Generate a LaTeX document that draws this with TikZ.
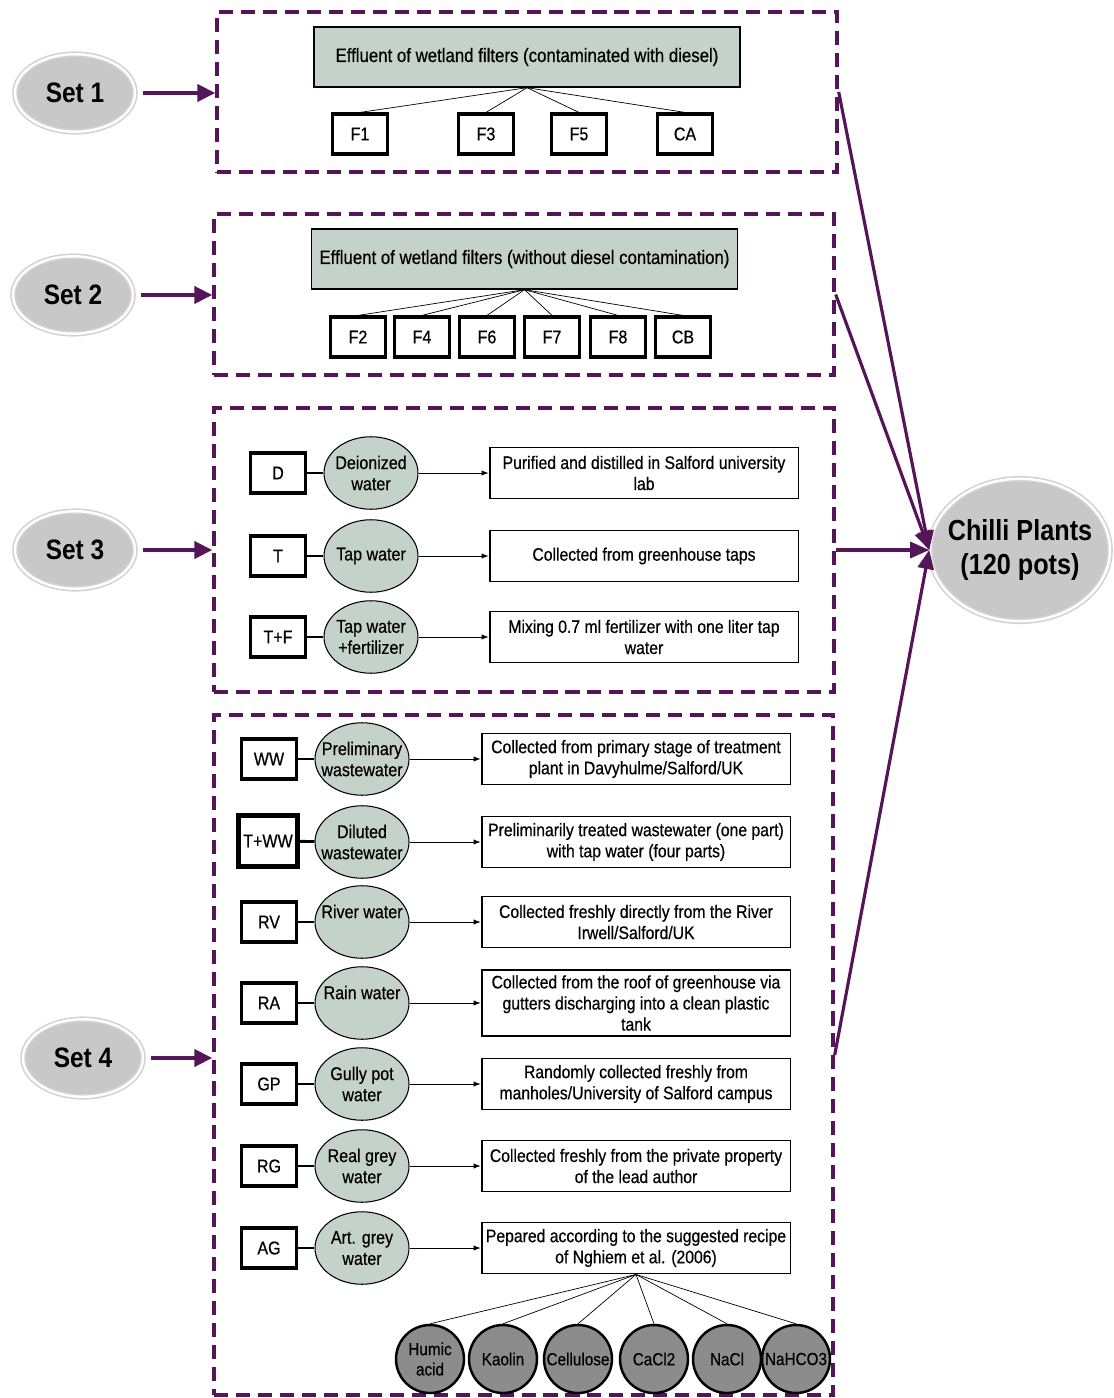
\documentclass[tikz,border=0pt]{standalone}
\usepackage{fontspec}
\setmainfont{Liberation Sans}[FakeStretch=0.87]
\newfontfamily\bodyfont{Liberation Sans}[FakeStretch=0.87, FakeBold=0.5]
\usetikzlibrary{shapes.geometric,arrows.meta,calc,positioning}
\definecolor{plum}{RGB}{84,22,88}
\definecolor{sage}{RGB}{197,210,201}
\definecolor{setgray}{RGB}{200,200,200}
\definecolor{ballgray}{RGB}{140,140,140}
\tikzset{>=latex}
\tikzset{
  setnode/.style={ellipse, fill=setgray, draw=gray!35, double=white,
    double distance=1.4pt, line width=0.9pt, minimum width=2.4cm,
    minimum height=1.55cm, font=\fontsize{16}{18}\selectfont\bfseries},
  setbox/.style={draw=plum, line width=2pt, dash pattern=on 8pt off 4.5pt,
    inner sep=0pt},
  setarrow/.style={draw=plum, line width=2.3pt,
    -{Triangle[length=3.6mm,width=3.4mm]}},
  plantarrow/.style={draw=plum, line width=1.8pt,
    -{Triangle[length=3.8mm,width=3.2mm]}},
  headbox/.style={draw=black, fill=sage, line width=0.8pt,
    minimum width=8.52cm, minimum height=1.2cm,
    font=\bodyfont\fontsize{11}{13}\selectfont},
  codebox/.style={draw=black, fill=white, line width=1.8pt,
    minimum width=1.1cm, minimum height=0.8cm, inner sep=1pt,
    font=\bodyfont\fontsize{10.5}{12}\selectfont},
  waterball/.style={ellipse, draw=black, fill=sage, line width=0.6pt,
    minimum width=1.88cm, minimum height=1.45cm, inner sep=0pt,
    label={[align=center, font=\bodyfont\fontsize{10.5}{12}\selectfont]center:#1}},
  infobox/.style={draw=black, fill=white, line width=1.1pt,
    minimum width=6.18cm, minimum height=1.02cm, inner xsep=1pt, inner ysep=3pt,
    align=center, font=\bodyfont\fontsize{10.3}{12}\selectfont},
  saltball/.style={circle, draw=black, fill=ballgray, line width=1.4pt,
    minimum size=1.36cm, inner sep=0pt, align=center,
    font=\bodyfont\fontsize{10}{11.5}\selectfont},
  link/.style={draw=black, line width=1.6pt},
}
\begin{document}
\begin{tikzpicture}[x=0.02cm, y=-0.02cm]
  \useasboundingbox (0,0) rectangle (1113,1398);

  % the four sets
  \node[setnode] (set1) at (75,93) {Set 1};
  \node[setnode] (set2) at (73,295) {Set 2};
  \node[setnode] (set3) at (75,550) {Set 3};
  \node[setnode] (set4) at (83,1058) {Set 4};

  \node[setbox, minimum width=12.4cm, minimum height=3.2cm] (box1) at (527,92) {};
  \node[setbox, minimum width=12.4cm, minimum height=3.22cm] (box2) at (524,294.5) {};
  \node[setbox, minimum width=12.4cm, minimum height=5.68cm] (box3) at (524,550) {};
  \node[setbox, minimum width=12.38cm, minimum height=13.6cm] (box4) at (523.5,1055) {};

  \draw[setarrow, shorten <=4pt] (set1.east) -- (set1.east -| box1.west);
  \draw[setarrow, shorten <=4pt] (set2.east) -- (set2.east -| box2.west);
  \draw[setarrow, shorten <=4pt] (set3.east) -- (set3.east -| box3.west);
  \draw[setarrow, shorten <=4pt] (set4.east) -- (set4.east -| box4.west);

  % chilli plants
  \node[setnode, minimum width=3.6cm, minimum height=2.85cm,
    label={[font=\fontsize{16.5}{19}\selectfont\bfseries, align=center]center:Chilli Plants\\(120 pots)}]
    (chilli) at (1020,550) {};
  \draw[plantarrow] (box1.east) -- (chilli.west);
  \draw[plantarrow] (box2.east) -- (chilli.west);
  \draw[plantarrow] (box3.east) -- (chilli.west);
  \draw[plantarrow] (box4.east) -- (chilli.west);

  % set 1
  \node[headbox] (head1) at (527,57) {Effluent of wetland filters (contaminated with diesel)};
  \foreach \nm/\x in {F1/360, F3/486, F5/579, CA/685} {
    \node[codebox] (\nm) at (\x,134) {\nm};
    \draw[thin] (head1.south) -- (\nm.north);
  }

  % set 2
  \node[headbox] (head2) at (524.5,259) {Effluent of wetland filters (without diesel contamination)};
  \foreach \nm/\x in {F2/358, F4/422, F6/487, F7/552, F8/618, CB/683} {
    \node[codebox] (\nm) at (\x,337) {\nm};
    \draw[thin] (head2.south) -- (\nm.north);
  }

  % set 3
  \foreach \nm/\y/\code/\water/\info in {
      d/473/D/{Deionized\\water}/{Purified and distilled in Salford university\\lab},
      t/556/T/{Tap water}/{Collected from greenhouse taps},
      tf/637/T+F/{Tap water\\+fertilizer}/{Mixing 0.7 ml fertilizer with one liter tap\\water}} {
    \node[codebox] (\nm-code) at (278,\y) {\code};
    \node[waterball=\water] (\nm-water) at (371,\y) {};
    \node[infobox] (\nm-info) at (644,\y) {\info};
    \draw[link] (\nm-code) -- (\nm-water);
    \draw[->, thin] (\nm-water) -- (\nm-info);
  }

  % set 4
  \foreach \nm/\y/\code/\water/\info in {
      ww/759/WW/{Preliminary\\wastewater}/{Collected from primary stage of treatment\\plant in Davyhulme/Salford/UK},
      rv/922/RV/{River water\\\mbox{}}/{Collected freshly directly from the River\\Irwell/Salford/UK},
      ra/1003/RA/{Rain water\\\mbox{}}/{Collected from the roof of greenhouse via\\gutters discharging into a clean plastic\\tank},
      gp/1084/GP/{Gully pot\\water}/{Randomly collected freshly from\\manholes/University of Salford campus},
      rg/1166/RG/{Real grey\\water}/{Collected freshly from the private property\\of the lead author},
      ag/1248/AG/{Art. grey\\water}/{Pepared according to the suggested recipe\\of Nghiem et al. (2006)}} {
    \node[codebox] (\nm-code) at (269,\y) {\code};
    \node[waterball=\water] (\nm-water) at (362,\y) {};
    \node[infobox] (\nm-info) at (636,\y) {\info};
    \draw[link] (\nm-code) -- (\nm-water);
    \draw[->, thin] (\nm-water) -- (\nm-info);
  }
  \node[codebox, minimum width=1.2cm, minimum height=1.04cm] (tww-code) at (268,841) {T+WW};
  \draw[thin] ($(tww-code.north west)+(4,4)$) rectangle ($(tww-code.south east)+(-4,-4)$);
  \node[waterball={Diluted\\wastewater}] (tww-water) at (362,842) {};
  \node[infobox] (tww-info) at (636,842) {Preliminarily treated wastewater (one part)\\with tap water (four parts)};
  \draw[link] (tww-code) -- (tww-water);
  \draw[->, thin] (tww-water) -- (tww-info);

  % recipe of artificial grey water
  \foreach \nm/\x/\salt in {humic/430/{Humic\\acid}, kaolin/503/Kaolin,
      cell/578/Cellulose, cacl/654/CaCl2, nacl/727/NaCl, nahco/796/NaHCO3} {
    \node[saltball] (\nm) at (\x,1359) {\salt};
    \draw[thin] (ag-info.south) -- (\nm.north);
  }
\end{tikzpicture}
\end{document}
